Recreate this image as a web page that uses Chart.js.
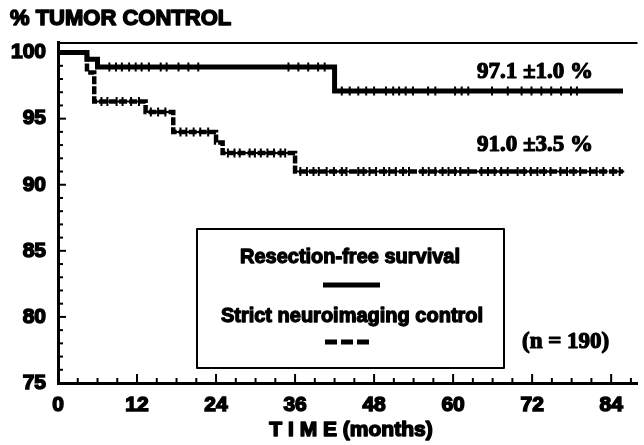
<!DOCTYPE html>
<html>
<head>
<meta charset="utf-8">
<script src="https://cdn.jsdelivr.net/npm/chart.js@4.4.1/dist/chart.umd.min.js"></script>
<style>
html,body{margin:0;padding:0;background:#fff;}
#wrap{width:644px;height:445px;position:relative;}
</style>
</head>
<body>
<div id="wrap"><canvas id="c" width="644" height="445"></canvas></div>
<script>
// ---- data ----
const rfsTimes  = [0, 4.4, 6.0, 42.0, 85.8];
const rfsValues = [100, 99.5, 98.9, 97.1, 97.1];
const sncTimes  = [0, 4.4, 5.5, 13.3, 17.5, 24.0, 25.0, 36.0, 85.8];
const sncValues = [100, 98.5, 96.3, 95.5, 94.0, 93.2, 92.4, 91.0, 91.0];
const rfsCensored = [7.8, 8.8, 9.7, 10.8, 11.8, 12.7, 13.8, 15.6, 16.5, 18.3, 19.8, 21.3, 35, 36.5, 38, 39.5, 40.5,
  43.1, 44.3, 45.6, 46.8, 48.0, 49.8, 50.9, 51.8, 52.8, 53.9, 56.2, 57.3, 60.3, 61.3, 62.3, 65.9, 68.3, 70.4, 71.9, 73.4, 74.9, 76.4, 77.9, 78.8];
const sncCensored = [6.6, 7.5, 8.9, 9.8, 11.1, 12.3, 14.1, 15.2, 16.3, 18.6, 19.5, 20.6, 21.6, 22.8,
  25.8, 26.8, 27.6, 29.1, 29.9, 30.8, 31.8, 32.8, 33.8, 34.5, 36.8, 37.8, 38.8, 39.6, 40.8, 41.9, 43.1, 43.8,
  45.6, 46.4, 47.3, 48.3, 49.5, 50.3, 51.3, 52.4, 53.3, 55.4, 56.3, 57.3, 58.4, 59.3, 60.3, 61.1, 62.3,
  64.3, 65.3, 66.3, 67.3, 68.3, 69.8, 70.8, 71.8, 72.8, 73.8, 74.8, 76.3, 77.3, 78.3, 79.3, 80.8, 81.8, 82.8, 84.3, 85.3];
const xTickLabels = [0, 12, 24, 36, 48, 60, 72, 84];
const yTickLabels = [75, 80, 85, 90, 95, 100];
const seriesNames = ['Resection-free survival', 'Strict neuroimaging control'];
const endLabels = ['97.1 \u00B11.0 %', '91.0 \u00B13.5 %'];

function stepValue(times, vals, t){ let v = vals[0]; for(let i=0;i<times.length;i++){ if(times[i] <= t) v = vals[i]; } return v; }
const pts = (ts, vs) => ts.map((t,i)=>({x:t, y:vs[i]}));

function heavyText(ctx, txt, x, y, sw){
  ctx.lineWidth = sw; ctx.lineJoin = 'round';
  ctx.strokeText(txt, x, y); ctx.fillText(txt, x, y);
}

const overlay = {
  id:'overlay',
  afterDraw(chart){
    const ctx = chart.ctx, xs = chart.scales.x, ys = chart.scales.y, a = chart.chartArea;
    ctx.save();
    ctx.strokeStyle = '#000'; ctx.fillStyle = '#000';
    // top frame line
    ctx.lineWidth = 2; ctx.beginPath(); ctx.moveTo(a.left, a.top+1); ctx.lineTo(a.right, a.top+1); ctx.stroke();
    // inward ticks
    ctx.lineWidth = 2;
    for(let v=75; v<=100; v++){ const y = ys.getPixelForValue(v); const L = (v%5===0)?8:5;
      ctx.beginPath(); ctx.moveTo(a.left, y); ctx.lineTo(a.left+L, y); ctx.stroke(); }
    for(let m=0; m<=87; m+=3){ const x = xs.getPixelForValue(m); const L = (m%12===0)?9:5;
      ctx.beginPath(); ctx.moveTo(x, a.bottom); ctx.lineTo(x, a.bottom-L); ctx.stroke(); }
    // titles
    ctx.textBaseline = 'middle';
    ctx.textAlign = 'left';
    ctx.font = 'bold 22px "Liberation Sans", Arial, sans-serif';
    heavyText(ctx, '% TUMOR CONTROL', 10, 19, 1.5);
    ctx.textAlign = 'center';
    ctx.font = 'bold 21px "Liberation Sans", Arial, sans-serif';
    heavyText(ctx, 'T I M E (months)', 351, 430, 1.5);
    // end labels
    ctx.textAlign = 'left';
    ctx.font = 'bold 23px "Liberation Serif", "Times New Roman", serif';
    heavyText(ctx, endLabels[0], 477, 72, 1.2);
    heavyText(ctx, endLabels[1], 477, 145, 1.2);
    ctx.font = 'bold 23px "Liberation Serif", "Times New Roman", serif';
    heavyText(ctx, '(n = 190)', 522, 342, 1.2);
    // legend box
    ctx.lineWidth = 2; ctx.strokeRect(197, 229, 307, 139);
    ctx.textAlign = 'center';
    ctx.font = 'bold 20px "Liberation Sans", Arial, sans-serif';
    heavyText(ctx, seriesNames[0], 350, 257, 1.3);
    heavyText(ctx, seriesNames[1], 352, 316, 1.3);
    ctx.lineWidth = 5;
    ctx.beginPath(); ctx.moveTo(323, 285); ctx.lineTo(380, 285); ctx.stroke();
    ctx.setLineDash([12,4]);
    ctx.beginPath(); ctx.moveTo(325, 342); ctx.lineTo(370, 342); ctx.stroke();
    ctx.restore();
  }
};

const tickFont = { family: '"Liberation Sans", Arial, sans-serif', size: 21, weight: 'bold' };

new Chart(document.getElementById('c'), {
  type: 'scatter',
  data: {
    datasets: [
      { label: seriesNames[0], data: pts(rfsTimes, rfsValues), showLine: true, stepped: true,
        borderColor: '#000', borderWidth: 5, pointRadius: 0, fill: false },
      { label: seriesNames[1], data: pts(sncTimes, sncValues), showLine: true, stepped: true,
        borderColor: '#000', borderWidth: 4.5, borderDash: [8,2], pointRadius: 0, fill: false },
      { label: 'c1', data: rfsCensored.map(t=>({x:t, y:stepValue(rfsTimes, rfsValues, t)})), showLine: false,
        pointStyle: 'line', rotation: 90, pointRadius: 4.5, borderColor: '#000', borderWidth: 2 },
      { label: 'c2', data: sncCensored.map(t=>({x:t, y:stepValue(sncTimes, sncValues, t)})), showLine: false,
        pointStyle: 'cross', pointRadius: 4.5, borderColor: '#000', borderWidth: 2 }
    ]
  },
  options: {
    responsive: false, animation: false, devicePixelRatio: 1,
    layout: { padding: { top: 42, left: 0, right: 0, bottom: 0 } },
    plugins: { legend: { display: false }, tooltip: { enabled: false }, title: { display: false } },
    scales: {
      x: { type: 'linear', min: 0, max: 88,
        afterBuildTicks: s => { s.ticks = xTickLabels.map(v=>({value:v})); },
        afterFit: s => { s.height = 62; },
        grid: { display: false, drawTicks: false },
        border: { display: true, color: '#000', width: 3 },
        ticks: { color: '#000', padding: 10, maxRotation: 0, autoSkip: false, font: tickFont,
          textStrokeColor: '#000', textStrokeWidth: 1.5 } },
      y: { type: 'linear', min: 75, max: 100.8,
        afterBuildTicks: s => { s.ticks = yTickLabels.map(v=>({value:v})); },
        afterFit: s => { s.width = 58; },
        grid: { display: false, drawTicks: false },
        border: { display: true, color: '#000', width: 3 },
        ticks: { color: '#000', padding: 12, autoSkip: false, font: tickFont,
          textStrokeColor: '#000', textStrokeWidth: 1.5 } }
    }
  },
  plugins: [overlay]
});
</script>
</body>
</html>
